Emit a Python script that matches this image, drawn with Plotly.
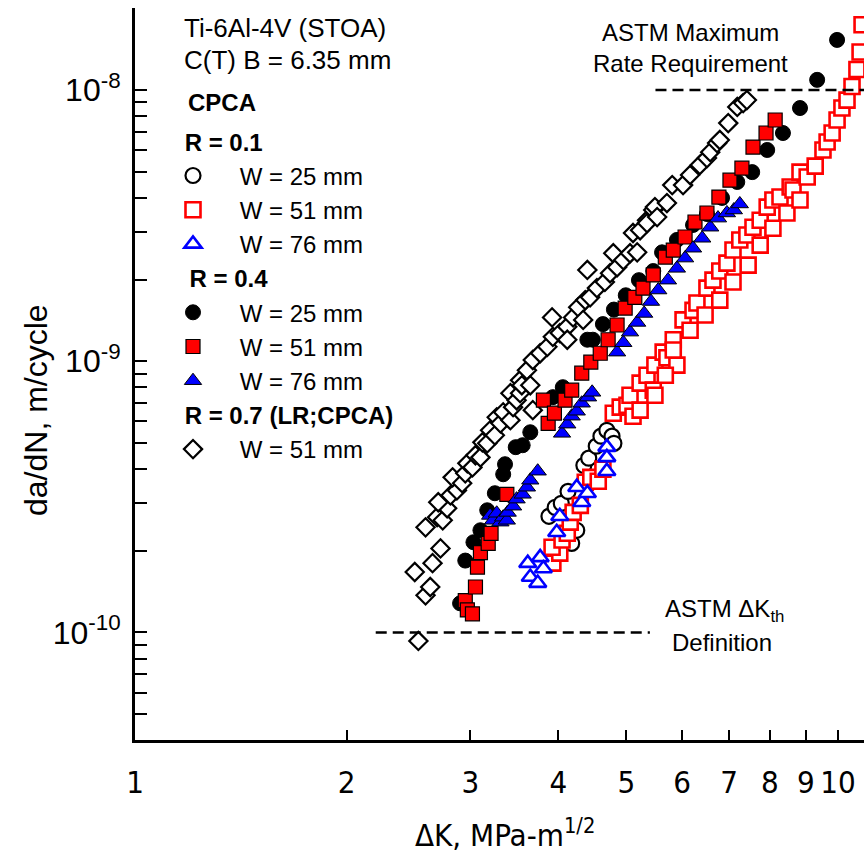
import plotly.graph_objects as go

# ---------------- data (ΔK in MPa·m^1/2, da/dN in m/cycle) ----------------
r01_w25 = [(3.88, 2.68e-10), (3.96, 2.89e-10), (4.04, 2.99e-10), (4.13, 3.31e-10), (4.18, 2.13e-10),
           (4.25, 2.38e-10), (4.35, 4.13e-10), (4.42, 4.39e-10), (4.53, 4.86e-10), (4.60, 5.29e-10),
           (4.69, 5.56e-10), (4.77, 5.29e-10), (4.80, 4.98e-10)]

r01_w51 = [(3.93, 1.80e-10), (4.02, 1.96e-10), (3.92, 2.06e-10), (4.05, 2.19e-10), (4.12, 2.32e-10),
           (4.16, 2.55e-10), (4.20, 2.77e-10), (4.30, 2.94e-10), (4.37, 3.58e-10), (4.45, 3.73e-10),
           (4.56, 3.61e-10), (4.63, 4.00e-10), (4.79, 6.43e-10), (4.90, 6.77e-10), (5.01, 6.88e-10),
           (5.11, 6.27e-10), (5.06, 7.49e-10), (5.23, 8.30e-10), (5.35, 8.88e-10), (5.46, 7.82e-10),
           (5.49, 9.67e-10), (5.64, 1.08e-9), (5.71, 1.03e-9), (5.90, 9.67e-10), (5.83, 1.20e-9),
           (6.02, 1.42e-9), (6.22, 1.54e-9), (6.30, 1.64e-9), (6.51, 1.86e-9), (6.64, 1.99e-9),
           (6.79, 2.15e-9), (6.95, 2.30e-9), (7.09, 2.57e-9), (7.25, 2.80e-9), (7.42, 2.92e-9),
           (7.57, 3.12e-9), (7.75, 3.31e-9), (7.93, 3.70e-9), (8.08, 3.93e-9), (8.27, 4.03e-9),
           (8.55, 4.39e-9), (8.63, 4.28e-9), (8.83, 4.98e-9), (9.04, 4.78e-9), (9.28, 5.24e-9),
           (9.52, 6.01e-9), (9.65, 6.43e-9), (9.81, 6.94e-9), (9.97, 7.75e-9), (10.13, 8.58e-9),
           (10.30, 9.18e-9), (10.47, 1.03e-8), (10.64, 1.19e-8), (10.75, 1.38e-8), (10.82, 1.74e-8),
           (5.23, 6.60e-10), (5.49, 7.49e-10), (5.68, 8.88e-10), (5.83, 1.10e-9), (6.16, 1.30e-9),
           (6.47, 1.48e-9), (6.79, 1.68e-9), (7.09, 1.96e-9), (7.45, 2.26e-9), (7.75, 2.68e-9),
           (8.08, 3.09e-9), (8.46, 3.52e-9), (8.83, 3.93e-9)]

r01_w76 = [(3.62, 1.80e-10), (3.77, 1.89e-10), (3.81, 1.72e-10), (3.65, 1.60e-10), (3.74, 1.52e-10),
           (3.98, 2.34e-10), (4.02, 2.68e-10), (4.25, 3.43e-10), (4.32, 3.02e-10), (4.40, 3.26e-10),
           (4.69, 4.82e-10), (4.69, 4.42e-10), (4.69, 3.93e-10)]

r04_w25 = [(2.90, 1.28e-10), (2.95, 1.84e-10), (3.03, 2.15e-10), (3.10, 2.38e-10), (3.17, 2.82e-10),
           (3.25, 3.26e-10), (3.34, 3.83e-10), (3.36, 4.17e-10), (3.48, 4.82e-10), (3.56, 4.90e-10),
           (3.65, 5.47e-10), (3.93, 7.37e-10), (4.06, 8.02e-10), (4.40, 1.20e-9), (4.48, 1.20e-9),
           (4.63, 1.37e-9), (4.80, 1.55e-9), (4.99, 1.75e-9), (5.21, 1.99e-9), (5.46, 2.15e-9),
           (5.62, 2.52e-9), (5.90, 2.80e-9), (6.22, 3.18e-9), (6.51, 3.49e-9), (6.84, 4.00e-9),
           (7.19, 4.58e-9), (7.55, 4.98e-9), (7.93, 6.01e-9), (8.35, 6.94e-9), (8.83, 8.58e-9),
           (9.34, 1.09e-8), (9.97, 1.53e-8)]

r04_w51 = [(2.95, 1.31e-10), (2.97, 1.21e-10), (3.02, 1.17e-10), (3.05, 1.47e-10), (3.07, 1.74e-10),
           (3.10, 1.97e-10), (3.18, 2.13e-10), (3.21, 2.32e-10), (3.38, 3.23e-10), (3.81, 7.18e-10),
           (3.87, 5.90e-10), (3.95, 6.43e-10), (4.09, 7.18e-10), (4.18, 7.82e-10), (4.32, 9.03e-10),
           (4.45, 9.92e-10), (4.59, 1.07e-9), (4.71, 1.20e-9), (4.85, 1.36e-9), (4.98, 1.57e-9),
           (5.14, 1.72e-9), (5.28, 1.86e-9), (5.46, 2.08e-9), (5.68, 2.42e-9), (5.83, 2.57e-9),
           (6.06, 2.87e-9), (6.26, 3.26e-9), (6.51, 3.52e-9), (6.77, 4.03e-9), (7.02, 4.65e-9),
           (7.30, 5.15e-9), (7.57, 6.16e-9), (7.90, 6.94e-9), (8.14, 7.75e-9)]

r04_w76 = [(3.20, 2.70e-10), (3.23, 2.59e-10), (3.27, 2.75e-10), (3.31, 2.55e-10), (3.34, 2.66e-10),
           (3.38, 2.59e-10), (3.39, 2.77e-10), (3.45, 2.92e-10), (3.49, 3.10e-10), (3.56, 3.23e-10),
           (3.61, 3.43e-10), (3.65, 3.64e-10), (3.74, 3.93e-10), (4.05, 5.42e-10), (4.12, 5.86e-10),
           (4.18, 6.27e-10), (4.25, 6.54e-10), (4.32, 7.00e-10), (4.41, 7.37e-10), (4.47, 7.68e-10),
           (4.85, 1.08e-9), (4.95, 1.17e-9), (5.06, 1.28e-9), (5.18, 1.39e-9), (5.30, 1.50e-9),
           (5.42, 1.66e-9), (5.55, 1.83e-9), (5.73, 1.99e-9), (5.90, 2.20e-9), (6.06, 2.40e-9),
           (6.22, 2.61e-9), (6.41, 2.84e-9), (6.58, 3.12e-9), (6.75, 3.37e-9), (6.95, 3.52e-9),
           (7.11, 3.61e-9), (7.25, 3.80e-9)]

r07_w51 = [(2.53, 9.3e-11), (2.50, 1.67e-10), (2.59, 1.37e-10), (2.63, 1.47e-10), (2.65, 1.80e-10),
           (2.72, 2.04e-10), (2.59, 2.44e-10), (2.69, 2.66e-10), (2.74, 2.59e-10), (2.78, 2.87e-10),
           (2.70, 3.02e-10), (2.81, 3.20e-10), (2.87, 3.34e-10), (2.83, 3.73e-10), (2.92, 3.55e-10),
           (2.95, 3.86e-10), (2.97, 4.20e-10), (3.02, 4.06e-10), (3.05, 4.50e-10), (3.10, 4.42e-10),
           (3.12, 5.02e-10), (3.17, 4.98e-10), (3.20, 5.56e-10), (3.25, 5.33e-10), (3.27, 6.21e-10),
           (3.31, 5.90e-10), (3.34, 6.48e-10), (3.42, 6.06e-10), (3.42, 7.62e-10), (3.45, 6.77e-10),
           (3.49, 7.18e-10), (3.53, 8.51e-10), (3.53, 7.62e-10), (3.55, 8.15e-10), (3.61, 9.26e-10),
           (3.65, 8.15e-10), (3.68, 1.01e-9), (3.68, 6.60e-10), (3.77, 1.07e-9), (3.86, 1.13e-9),
           (3.92, 1.45e-9), (3.93, 1.23e-9), (4.02, 1.27e-9), (4.12, 1.34e-9), (4.12, 1.20e-9),
           (4.20, 1.45e-9), (4.27, 1.58e-9), (4.34, 1.42e-9), (4.37, 1.68e-9), (4.40, 2.17e-9),
           (4.44, 1.72e-9), (4.54, 1.86e-9), (4.66, 1.96e-9), (4.74, 2.11e-9), (4.79, 2.50e-9),
           (4.85, 2.22e-9), (4.95, 2.36e-9), (5.06, 2.50e-9), (5.11, 2.97e-9), (5.18, 2.52e-9),
           (5.23, 3.04e-9), (5.35, 3.31e-9), (5.35, 3.23e-9), (5.46, 3.61e-9), (5.49, 3.70e-9),
           (5.53, 3.40e-9), (5.71, 3.83e-9), (5.81, 4.46e-9), (6.02, 4.46e-9), (6.16, 4.86e-9),
           (6.36, 5.29e-9), (6.51, 5.61e-9), (6.58, 5.90e-9), (6.73, 6.37e-9), (6.79, 6.54e-9),
           (6.98, 7.55e-9), (7.19, 8.66e-9), (7.33, 8.95e-9), (7.42, 9.18e-9)]

# ASTM reference lines
astm_max_rate = 1e-8
astm_max_dk = [5.5, 11.5]
astm_th_rate = 1e-10
astm_th_dk = [2.2, 5.4]

# axis ticks
x_tick_vals = [1, 2, 3, 4, 5, 6, 7, 8, 9, 10]
x_tick_text = ["1", "2", "3", "4", "5", "6", "7", "8", "9", "10"]
y_decades = [-11, -10, -9, -8]
y_label_text = {-10: "10<sup>-10</sup>", -9: "10<sup>-9</sup>", -8: "10<sup>-8</sup>"}

# ---------------- figure ----------------
FONT = "Liberation Sans, Arial, sans-serif"
NARROW = "DejaVu Sans Condensed, Liberation Sans Narrow, Arial Narrow, Liberation Sans, sans-serif"
NB = "\u00a0"

fig = go.Figure()


def xs(d):
    return [p[0] for p in d]


def ys(d):
    return [p[1] for p in d]


def add(data, name, group, gtitle, rank, marker):
    fig.add_trace(go.Scatter(
        x=xs(data), y=ys(data), mode="markers", name=NB * 4 + name,
        legendgroup=group, legendrank=rank,
        legendgrouptitle=dict(text=gtitle, font=dict(family=FONT, size=24, color="black")),
        marker=marker, hoverinfo="x+y"))


T01 = "<b>" + NB + "R = 0.1</b>"
T04 = "<b>" + NB + "\u2009R = 0.4</b>"
T07 = "<b>" + NB + "R = 0.7 (LR;CPCA)</b>"

# draw order: diamonds beneath, open R=0.1 series on top
add(r07_w51, "W = 51 mm", "r07", T07, 7,
    dict(symbol="diamond", size=14, color="white", line=dict(color="black", width=2.2)))
add(r04_w25, "W = 25 mm", "r04", T04, 4,
    dict(symbol="circle", size=15, color="black", line=dict(color="black", width=1)))
add(r04_w51, "W = 51 mm", "r04", T04, 5,
    dict(symbol="square", size=14, color="red", line=dict(color="black", width=1.2)))
add(r04_w76, "W = 76 mm", "r04", T04, 6,
    dict(symbol="triangle-up", size=15, color="blue", line=dict(color="black", width=1)))
add(r01_w25, "W = 25 mm", "r01", T01, 1,
    dict(symbol="circle", size=15, color="white", line=dict(color="black", width=2.2)))
add(r01_w51, "W = 51 mm", "r01", T01, 2,
    dict(symbol="square", size=15, color="white", line=dict(color="red", width=2.6)))
add(r01_w76, "W = 76 mm", "r01", T01, 3,
    dict(symbol="triangle-up", size=15, color="white", line=dict(color="blue", width=2.6)))

for dk, rate in ((astm_max_dk, astm_max_rate), (astm_th_dk, astm_th_rate)):
    fig.add_trace(go.Scatter(x=dk, y=[rate] * len(dk), mode="lines", showlegend=False,
                             hoverinfo="skip",
                             line=dict(color="black", width=2.5, dash="11px,6px")))

# y ticks: every 1..9 x 10^n, label decades only
y_tick_vals, y_tick_text = [], []
for n in y_decades:
    for k in range(1, 10):
        y_tick_vals.append(k * 10.0 ** n)
        y_tick_text.append(y_label_text.get(n, "") if k == 1 else "")

L, T, B = 135, 8, 119
W, H = 864, 859
plot_w = W - L
plot_h = H - T - B
x_decade = 703.0
y_decade = 271.2
x_range = [0, plot_w / x_decade]
y_top = -8 + (90 - T) / y_decade
y_range = [y_top - plot_h / y_decade, y_top]


def px(xpix):
    return (xpix - L) / plot_w


def py(ypix):
    return (H - B - ypix) / plot_h


fig.update_layout(
    width=W, height=H, margin=dict(l=L, r=0, t=T, b=B, pad=0),
    paper_bgcolor="white", plot_bgcolor="white",
    font=dict(family=FONT, size=24, color="black"),
    xaxis=dict(type="log", range=x_range, showgrid=False, zeroline=False,
               showline=True, linewidth=3, linecolor="black", mirror=False,
               ticks="inside", ticklen=10, tickwidth=2, tickcolor="black",
               tickvals=x_tick_vals, ticktext=x_tick_text,
               tickfont=dict(family=NARROW, size=31, color="black"),
               ticklabelstandoff=13, automargin=False),
    yaxis=dict(type="log", range=y_range, showgrid=False, zeroline=False,
               showline=True, linewidth=3, linecolor="black", mirror=False,
               ticks="inside", ticklen=12, tickwidth=2, tickcolor="black",
               tickvals=y_tick_vals, ticktext=y_tick_text,
               tickfont=dict(family=FONT, size=32, color="black"),
               ticklabelstandoff=5, automargin=False),
    legend=dict(x=px(173), y=py(88), xanchor="left", yanchor="top",
                bgcolor="rgba(0,0,0,0)", borderwidth=0,
                font=dict(family=FONT, size=24, color="black"),
                title=dict(text=NB, font=dict(family=FONT, size=24, color="black")),
                grouptitlefont=dict(family=FONT, size=24, color="black"),
                tracegroupgap=0, traceorder="grouped", itemsizing="trace",
                itemclick=False, itemdoubleclick=False),
    showlegend=True,
)

ann = [
    dict(text="Ti-6Al-4V (STOA)", x=px(182), y=py(28), xanchor="left", size=26),
    dict(text="C(T) B = 6.35 mm", x=px(182), y=py(60), xanchor="left", size=26),
    dict(text="<b>CPCA</b>", x=px(186), y=py(103), xanchor="left", size=24),
    dict(text="ASTM Maximum", x=px(690), y=py(33), xanchor="center", size=24),
    dict(text="Rate Requirement", x=px(690), y=py(63), xanchor="center", size=24),
    dict(text="ASTM \u0394K<sub>th</sub>", x=px(724), y=py(610), xanchor="center", size=24),
    dict(text="Definition", x=px(722), y=py(642), xanchor="center", size=24),
]
for a in ann:
    fig.add_annotation(text=a["text"], x=a["x"], y=a["y"], xref="paper", yref="paper",
                       xanchor=a["xanchor"], yanchor="middle", showarrow=False,
                       font=dict(family=FONT, size=a["size"], color="black"))

# axis titles
fig.add_annotation(text="\u0394K, MPa-m<sup>1/2</sup>", x=px(505), y=py(833), xref="paper", yref="paper",
                   xanchor="center", yanchor="middle", showarrow=False,
                   font=dict(family=NARROW, size=31, color="black"))
fig.add_annotation(text="da/dN, m/cycle", x=px(36), y=py(410), xref="paper", yref="paper",
                   xanchor="center", yanchor="middle", showarrow=False, textangle=-90,
                   font=dict(family=FONT, size=32, color="black"))

fig.write_html("out.html", config={"displayModeBar": False},
               post_script="document.body.style.margin='0px';document.body.style.overflow='hidden';")
